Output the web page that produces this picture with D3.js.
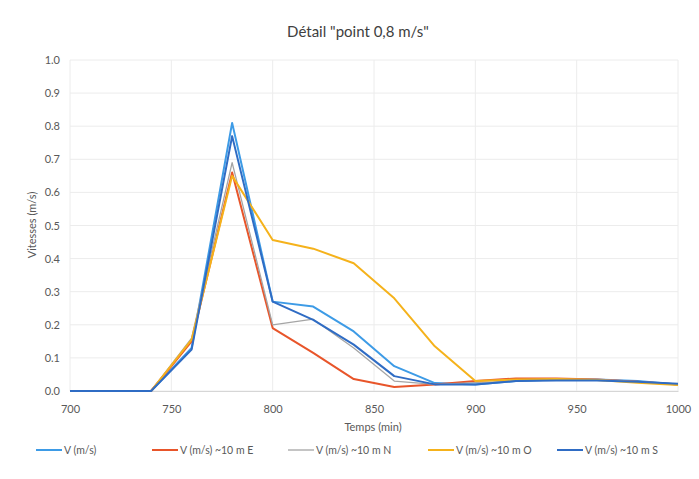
<!DOCTYPE html>
<html><head><meta charset="utf-8">
<script src="https://cdn.jsdelivr.net/npm/d3@7"></script>
<style>body{margin:0;background:#fff}svg{font-family:Lato,"Open Sans",sans-serif}</style>
</head><body><svg id="c" width="699" height="479"></svg>
<script>
const times = [700,720,740,760,780,800,820,840,860,880,900,920,940,960,980,1000];
const vMain = [0,0,0,0.13,0.81,0.27,0.255,0.18,0.075,0.024,0.02,0.03,0.035,0.035,0.03,0.02];
const vE    = [0,0,0,0.15,0.66,0.19,0.115,0.036,0.012,0.02,0.03,0.038,0.038,0.035,0.028,0.02];
const vN    = [0,0,0,0.16,0.69,0.20,0.217,0.13,0.03,0.02,0.025,0.03,0.035,0.035,0.028,0.02];
const vO    = [0,0,0,0.155,0.65,0.456,0.43,0.386,0.28,0.135,0.03,0.035,0.036,0.033,0.025,0.018];
const vS    = [0,0,0,0.125,0.77,0.27,0.215,0.14,0.045,0.02,0.02,0.03,0.032,0.032,0.028,0.022];
const seriesNames = ["V (m/s)","V (m/s) ~10 m E","V (m/s) ~10 m N","V (m/s) ~10 m O","V (m/s) ~10 m S"];
const xTicks = [700,750,800,850,900,950,1000];
const yTicks = [0,0.1,0.2,0.3,0.4,0.5,0.6,0.7,0.8,0.9,1.0];

const series = [vMain,vE,vN,vO,vS];
const colors = ["#3d9be6","#e8552a","#a5a5a5","#f5b21b","#2f6cc4"];
const widths = [2,2,1.3,2,2];

const svg = d3.select("#c");
const x = d3.scaleLinear().domain([700,1000]).range([70,678]);
const y = d3.scaleLinear().domain([0,1]).range([391,60]);

// grid
svg.append("g").selectAll("line").data(yTicks).join("line")
  .attr("x1",70).attr("x2",678).attr("y1",d=>y(d)).attr("y2",d=>y(d))
  .attr("stroke","#ececec").attr("stroke-width",1);
svg.append("g").selectAll("line").data(xTicks).join("line")
  .attr("x1",d=>x(d)).attr("x2",d=>x(d)).attr("y1",60).attr("y2",391)
  .attr("stroke","#ececec").attr("stroke-width",1);

// axes
const xa = svg.append("g").attr("transform","translate(0,391)")
  .call(d3.axisBottom(x).tickValues(xTicks).tickFormat(d3.format("d")).tickSize(0).tickPadding(14));
xa.select(".domain").attr("stroke","#d6d6d6");
xa.selectAll("text").attr("fill","#595959").attr("font-size",11).attr("font-family","Lato,sans-serif");
const ya = svg.append("g").attr("transform","translate(70,0)")
  .call(d3.axisLeft(y).tickValues(yTicks).tickFormat(d3.format(".1f")).tickSize(0).tickPadding(10));
ya.select(".domain").remove();
ya.selectAll("text").attr("fill","#595959").attr("font-size",11).attr("font-family","Lato,sans-serif");

// lines
const line = d3.line().x((d,i)=>x(times[i])).y(d=>y(d));
series.forEach((s,k)=>{
  svg.append("path").datum(s).attr("d",line).attr("fill","none")
    .attr("stroke",colors[k]).attr("stroke-width",widths[k]).attr("stroke-linejoin","round");
});

// title and labels
svg.append("text").attr("x",358).attr("y",37).attr("text-anchor","middle")
  .attr("font-size",15).attr("fill","#404040").text('Détail "point 0,8 m/s"');
svg.append("text").attr("x",373).attr("y",431).attr("text-anchor","middle")
  .attr("font-size",11).attr("fill","#595959").text("Temps (min)");
svg.append("text").attr("transform","translate(36,225) rotate(-90)").attr("text-anchor","middle")
  .attr("font-size",11).attr("fill","#595959").text("Vitesses (m/s)");

// legend
const legX = [36,152,288,428,557];
const leg = svg.append("g");
seriesNames.forEach((n,k)=>{
  leg.append("line").attr("x1",legX[k]).attr("x2",legX[k]+26).attr("y1",450).attr("y2",450)
    .attr("stroke",colors[k]).attr("stroke-width",widths[k]);
  leg.append("text").attr("x",legX[k]+28).attr("y",454).attr("font-size",10.5)
    .attr("fill","#595959").text(n);
});
</script></body></html>
